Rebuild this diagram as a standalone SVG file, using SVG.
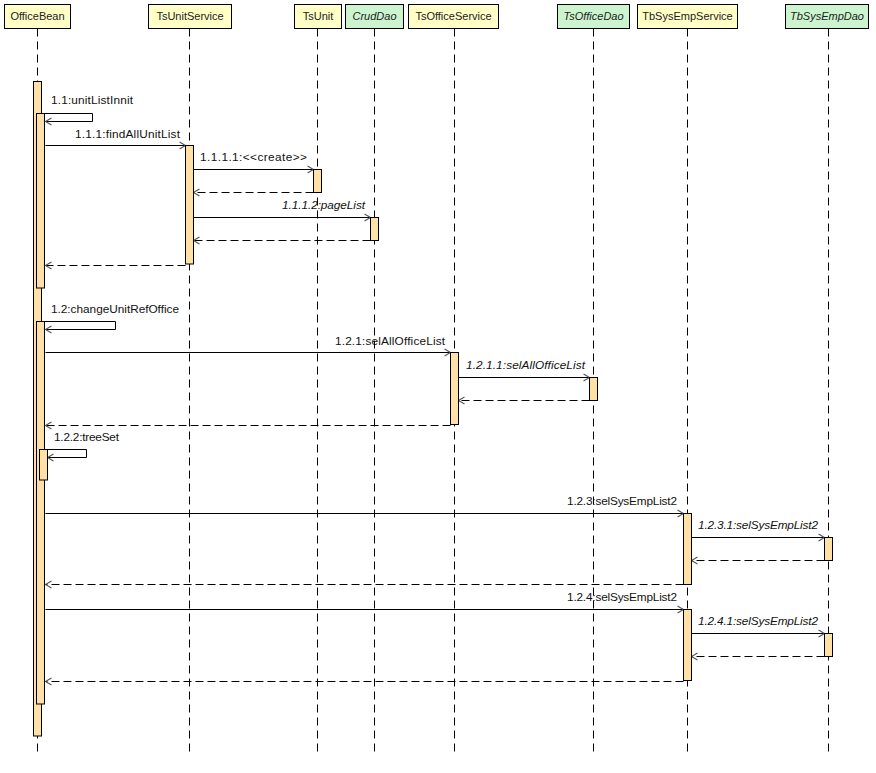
<svg xmlns="http://www.w3.org/2000/svg" width="876" height="773" viewBox="0 0 876 773">
<style>
.bg{fill:#ffffff}
.hdr{stroke:#000;stroke-width:1}
.cls{fill:#ffffc6}
.ifc{fill:#ccf5cf}
.ht{font-family:"Liberation Sans",Arial,sans-serif;font-size:11px;fill:#222;text-anchor:middle}
.it{font-style:italic}
.life{stroke:#000;stroke-width:1;stroke-dasharray:8,5;fill:none}
.bar{fill:#ffe0a6;stroke:#000;stroke-width:1}
.call{stroke:#000;stroke-width:1;fill:none}
.ret{stroke:#000;stroke-width:1;fill:none;stroke-dasharray:8,4}
.lbl{font-family:"Liberation Sans",Arial,sans-serif;font-size:11.8px;fill:#111}
.end{text-anchor:end}
</style>
<defs>
<marker id="ah" markerUnits="userSpaceOnUse" markerWidth="10" markerHeight="10" refX="7" refY="4" orient="auto" overflow="visible">
<path d="M1,0.5 L7,4 L1,7.5" fill="none" stroke="#555" stroke-width="1.1"/>
</marker>
</defs>
<rect class="bg" x="0" y="0" width="876" height="773"/>

<g id="connectors">
<path class="call" d="M41.5,113.5 H92.5 V121.5 H45.5" marker-end="url(#ah)"/>
<text class="lbl" x="51" y="104" textLength="82">1.1:unitListInnit</text>
<path class="call" d="M45.5,145.5 H185.5" marker-end="url(#ah)"/>
<text class="lbl end" x="180" y="138" textLength="105">1.1.1:findAllUnitList</text>
<path class="call" d="M193.5,169.5 H313.5" marker-end="url(#ah)"/>
<text class="lbl end" x="307" y="161" textLength="107">1.1.1.1:&lt;&lt;create&gt;&gt;</text>
<path class="ret" d="M313.5,192.5 H193.5" marker-end="url(#ah)"/>
<path class="call" d="M193.5,217.5 H370.5" marker-end="url(#ah)"/>
<text class="lbl end it" x="365" y="209" textLength="83">1.1.1.2:pageList</text>
<path class="ret" d="M370.5,240.5 H193.5" marker-end="url(#ah)"/>
<path class="ret" d="M185.5,265.5 H45.5" marker-end="url(#ah)"/>

<path class="call" d="M41.5,321.5 H115.5 V329.5 H45.5" marker-end="url(#ah)"/>
<text class="lbl" x="51" y="313" textLength="128">1.2:changeUnitRefOffice</text>
<path class="call" d="M45.5,352.5 H450.5" marker-end="url(#ah)"/>
<text class="lbl end" x="445" y="345" textLength="110">1.2.1:selAllOfficeList</text>
<path class="call" d="M458.5,377.5 H589.5" marker-end="url(#ah)"/>
<text class="lbl end it" x="585" y="369" textLength="119">1.2.1.1:selAllOfficeList</text>
<path class="ret" d="M589.5,400.5 H458.5" marker-end="url(#ah)"/>
<path class="ret" d="M450.5,425.5 H45.5" marker-end="url(#ah)"/>

<path class="call" d="M45.5,449.5 H86.5 V457.5 H47.5" marker-end="url(#ah)"/>
<text class="lbl" x="54" y="441" textLength="65">1.2.2:treeSet</text>

<path class="call" d="M45.5,513.5 H683.5" marker-end="url(#ah)"/>
<text class="lbl end" x="677" y="505" textLength="110">1.2.3:selSysEmpList2</text>
<path class="call" d="M691.5,537.5 H824.5" marker-end="url(#ah)"/>
<text class="lbl end it" x="818" y="529" textLength="120">1.2.3.1:selSysEmpList2</text>
<path class="ret" d="M824.5,560.5 H691.5" marker-end="url(#ah)"/>
<path class="ret" d="M683.5,584.5 H45.5" marker-end="url(#ah)"/>

<path class="call" d="M45.5,609.5 H683.5" marker-end="url(#ah)"/>
<text class="lbl end" x="677" y="601" textLength="110">1.2.4:selSysEmpList2</text>
<path class="call" d="M691.5,633.5 H824.5" marker-end="url(#ah)"/>
<text class="lbl end it" x="818" y="625" textLength="120">1.2.4.1:selSysEmpList2</text>
<path class="ret" d="M824.5,656.5 H691.5" marker-end="url(#ah)"/>
<path class="ret" d="M683.5,681.5 H45.5" marker-end="url(#ah)"/>
</g>

<g id="OfficeBean">
<line class="life" x1="37.5" y1="28.5" x2="37.5" y2="756"/>
<rect class="hdr cls" x="4.5" y="4.5" width="66" height="24"/>
<text class="ht" x="37.5" y="20">OfficeBean</text>
<rect class="bar" x="33.5" y="81.5" width="8" height="654.5"/>
<rect class="bar" x="36.5" y="113.5" width="8" height="174.5"/>
<rect class="bar" x="36.5" y="321.5" width="8" height="382.5"/>
<rect class="bar" x="39.5" y="449.5" width="8" height="30.5"/>
</g>

<g id="TsUnitService">
<line class="life" x1="189.5" y1="28.5" x2="189.5" y2="756"/>
<rect class="hdr cls" x="148.5" y="4.5" width="83" height="24"/>
<text class="ht" x="190" y="20">TsUnitService</text>
<rect class="bar" x="185.5" y="145.5" width="8" height="118.5"/>
</g>

<g id="TsUnit">
<line class="life" x1="317.5" y1="28.5" x2="317.5" y2="756"/>
<rect class="hdr cls" x="294.5" y="4.5" width="47" height="24"/>
<text class="ht" x="318" y="20">TsUnit</text>
<rect class="bar" x="313.5" y="169.5" width="8" height="23"/>
</g>

<g id="CrudDao">
<line class="life" x1="374.5" y1="28.5" x2="374.5" y2="756"/>
<rect class="hdr ifc" x="345.5" y="4.5" width="58" height="24"/>
<text class="ht it" x="374.5" y="20">CrudDao</text>
<rect class="bar" x="370.5" y="217.5" width="8" height="23"/>
</g>

<g id="TsOfficeService">
<line class="life" x1="454.5" y1="28.5" x2="454.5" y2="756"/>
<rect class="hdr cls" x="408.5" y="4.5" width="90" height="24"/>
<text class="ht" x="453.5" y="20">TsOfficeService</text>
<rect class="bar" x="450.5" y="352.5" width="8" height="72"/>
</g>

<g id="TsOfficeDao">
<line class="life" x1="593.5" y1="28.5" x2="593.5" y2="756"/>
<rect class="hdr ifc" x="557.5" y="4.5" width="72" height="24"/>
<text class="ht it" x="593.5" y="20">TsOfficeDao</text>
<rect class="bar" x="589.5" y="377.5" width="8" height="23"/>
</g>

<g id="TbSysEmpService">
<line class="life" x1="687.5" y1="28.5" x2="687.5" y2="756"/>
<rect class="hdr cls" x="637.5" y="4.5" width="100" height="24"/>
<text class="ht" x="687.5" y="20">TbSysEmpService</text>
<rect class="bar" x="683.5" y="513.5" width="8" height="71"/>
<rect class="bar" x="683.5" y="609.5" width="8" height="71"/>
</g>

<g id="TbSysEmpDao">
<line class="life" x1="828.5" y1="28.5" x2="828.5" y2="756"/>
<rect class="hdr ifc" x="785.5" y="4.5" width="83" height="24"/>
<text class="ht it" x="827" y="20">TbSysEmpDao</text>
<rect class="bar" x="824.5" y="537.5" width="8" height="23"/>
<rect class="bar" x="824.5" y="633.5" width="8" height="23"/>
</g>
</svg>
